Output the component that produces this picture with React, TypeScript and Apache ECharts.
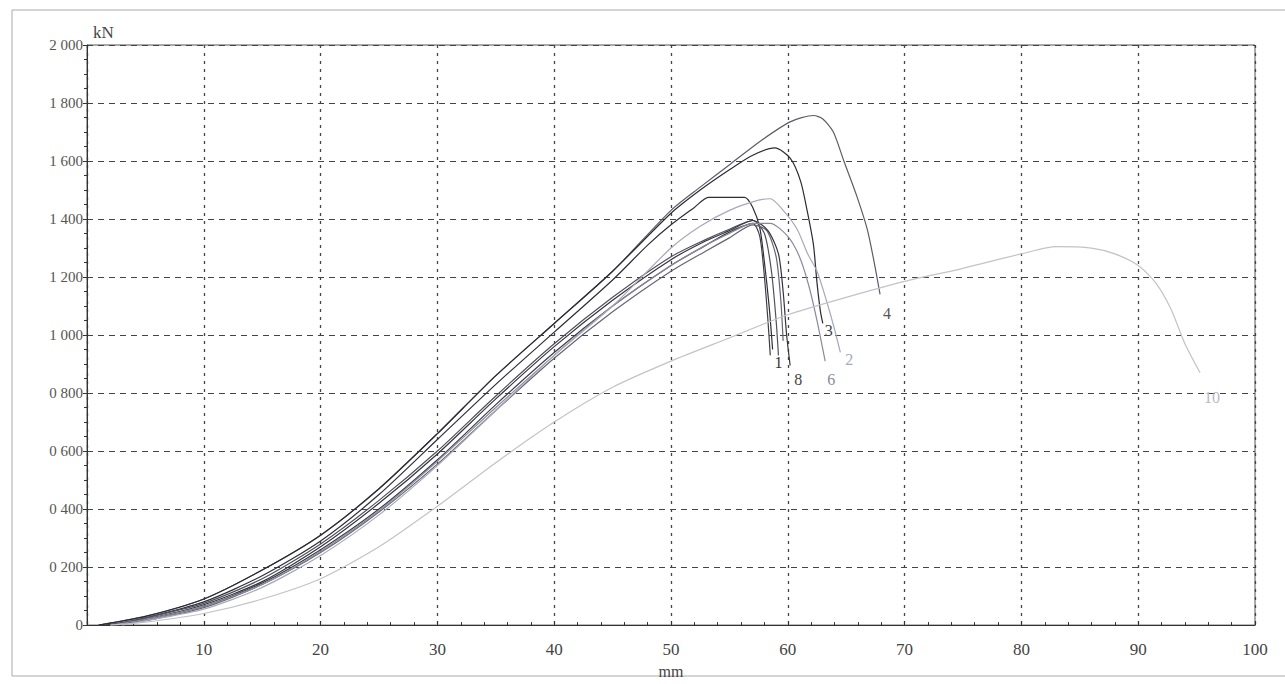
import React, { useEffect, useRef } from "react";
import * as echarts from "echarts";

// x in mm, y in kN
const curve1 = [[2,0],[5,0.025],[10,0.08],[15,0.17],[20,0.29],[25,0.45],[30,0.64],[35,0.83],[40,1.01],[45,1.19],[48,1.31],[50,1.38],[52,1.44],[53.2,1.475],[56.3,1.475],[57,1.44],[57.6,1.37],[58,1.25],[58.4,1.1],[58.7,0.95]];
const curve2 = [[3,0],[5,0.015],[10,0.055],[15,0.13],[20,0.24],[25,0.38],[30,0.55],[35,0.74],[40,0.93],[45,1.1],[50,1.3],[52.5,1.375],[55,1.43],[57.5,1.465],[58.5,1.47],[59.6,1.43],[60.8,1.365],[61.7,1.28],[62.5,1.22],[63.3,1.12],[64,1.02],[64.5,0.94]];
const curve3 = [[1,0],[5,0.03],[10,0.09],[15,0.19],[20,0.31],[25,0.47],[30,0.66],[35,0.86],[40,1.04],[45,1.22],[50,1.42],[52.5,1.5],[55,1.57],[57,1.62],[58.9,1.645],[60.2,1.61],[61.1,1.53],[61.7,1.42],[62.2,1.31],[62.5,1.18],[62.8,1.08],[63,1.04]];
const curve4 = [[1,0],[5,0.03],[10,0.09],[15,0.19],[20,0.31],[25,0.47],[30,0.66],[35,0.86],[40,1.04],[45,1.22],[50,1.43],[52.5,1.51],[55.1,1.59],[57.7,1.67],[60.2,1.735],[62.2,1.757],[63,1.745],[63.9,1.7],[64.8,1.6],[65.9,1.48],[66.8,1.365],[67.4,1.25],[67.9,1.14]];
const curve5 = [[1.5,0],[5,0.02],[10,0.065],[15,0.145],[20,0.26],[25,0.4],[30,0.57],[35,0.76],[40,0.94],[45,1.1],[50,1.24],[53,1.31],[55,1.355],[57,1.385],[57.6,1.34],[58,1.2],[58.3,1.05],[58.5,0.93]];
const curve6 = [[2,0],[5,0.02],[10,0.065],[15,0.14],[20,0.255],[25,0.395],[30,0.565],[35,0.75],[40,0.93],[45,1.1],[50,1.24],[53,1.31],[55,1.35],[57,1.385],[58.5,1.385],[60,1.34],[61,1.27],[61.8,1.17],[62.5,1.05],[63.2,0.91]];
const curve7 = [[2,0],[5,0.025],[10,0.075],[15,0.16],[20,0.28],[25,0.43],[30,0.6],[35,0.79],[40,0.97],[45,1.13],[50,1.27],[53,1.33],[55,1.365],[57,1.395],[58,1.35],[58.6,1.22],[59,1.05],[59.2,0.93]];
const curve8 = [[2,0],[5,0.02],[10,0.07],[15,0.15],[20,0.27],[25,0.42],[30,0.59],[35,0.78],[40,0.96],[45,1.12],[50,1.26],[53,1.325],[55,1.36],[57,1.395],[58.3,1.36],[59.2,1.28],[59.6,1.15],[59.9,1.0],[60.2,0.895]];
const curve9 = [[2.5,0],[5,0.015],[10,0.06],[15,0.14],[20,0.25],[25,0.39],[30,0.555],[35,0.74],[40,0.92],[45,1.08],[50,1.22],[53,1.29],[55,1.335],[57,1.38],[58.2,1.36],[59,1.27],[59.4,1.12],[59.6,0.98]];
const curve10 = [[2,0],[5,0.01],[10,0.04],[15,0.09],[20,0.16],[25,0.27],[30,0.41],[35,0.56],[40,0.7],[45,0.82],[50,0.91],[55,0.99],[60,1.07],[65,1.13],[70,1.185],[75,1.23],[80,1.28],[83,1.305],[86,1.3],[88,1.28],[90,1.24],[91.5,1.18],[92.8,1.09],[94,0.97],[95.3,0.87]];

const yTickLabels = ["0", "0 200", "0 400", "0 600", "0 800", "1 000", "1 200", "1 400", "1 600", "1 800", "2 000"];
const xTickLabels = ["", "10", "20", "30", "40", "50", "60", "70", "80", "90", "100"];

const seriesDefs = [
  { name: "4", data: curve4, color: "#5c5c6a", label: "4", labelColor: "#555", offset: [-5, 19] },
  { name: "3", data: curve3, color: "#2a2a34", label: "3", labelColor: "#444", offset: [-6, 7] },
  { name: "1", data: curve1, color: "#2e2e36", label: "1", labelColor: "#333", offset: [-6, 13] },
  { name: "5", data: curve5, color: "#3e3e4a", label: "", labelColor: "#333", offset: [0, 0] },
  { name: "7", data: curve7, color: "#50505c", label: "", labelColor: "#333", offset: [0, 0] },
  { name: "9", data: curve9, color: "#646474", label: "", labelColor: "#333", offset: [0, 0] },
  { name: "8", data: curve8, color: "#34343e", label: "8", labelColor: "#444", offset: [-4, 14] },
  { name: "6", data: curve6, color: "#8a8a9c", label: "6", labelColor: "#8a8aa0", offset: [-6, 18] },
  { name: "2", data: curve2, color: "#a8a8ba", label: "2", labelColor: "#a8a8bc", offset: [-3, 7] },
  { name: "10", data: curve10, color: "#c2c2cc", label: "10", labelColor: "#b8b8c4", offset: [-4, 25] },
];

const FONT = "'Liberation Serif', 'DejaVu Serif', serif";

export default function App() {
  const ref = useRef<HTMLDivElement>(null);
  useEffect(() => {
    if (!ref.current) return;
    const chart = echarts.init(ref.current, undefined, { renderer: "svg" });
    chart.setOption({
      animation: false,
      backgroundColor: "#ffffff",
      grid: {
        left: 87,
        right: 30,
        top: 45,
        bottom: 47,
        show: true,
        borderColor: "#555",
        borderWidth: 1,
        backgroundColor: "transparent",
      },
      graphic: [
        {
          type: "rect",
          shape: { x: 12, y: 10, width: 1290, height: 666 },
          style: { fill: "none", stroke: "#aaa", lineWidth: 1 },
          silent: true,
        },
      ],
      xAxis: {
        type: "value",
        min: 0,
        max: 100,
        interval: 10,
        name: "mm",
        nameLocation: "middle",
        nameGap: 31,
        nameTextStyle: { fontFamily: FONT, fontSize: 16, color: "#444" },
        axisLine: { show: true, lineStyle: { color: "#333", width: 1 } },
        axisTick: { show: true, inside: true, length: 4, lineStyle: { color: "#333" } },
        minorTick: { show: true, splitNumber: 5, length: 3, lineStyle: { color: "#333" } },
        axisLabel: {
          fontFamily: FONT,
          fontSize: 17,
          color: "#444",
          margin: 16,
          formatter: (v: number) => xTickLabels[Math.round(v / 10)] ?? "",
        },
        splitLine: { show: true, lineStyle: { color: "#444", type: [3, 5], width: 1.3 } },
      },
      yAxis: {
        type: "value",
        min: 0,
        max: 2,
        interval: 0.2,
        name: "kN",
        nameLocation: "end",
        nameGap: 4,
        nameTextStyle: { fontFamily: FONT, fontSize: 17, color: "#444", align: "left", padding: [0, 0, 0, 6] },
        axisLine: { show: true, lineStyle: { color: "#333", width: 1 } },
        axisTick: { show: true, inside: false, length: 4, lineStyle: { color: "#333" } },
        minorTick: { show: true, splitNumber: 4, length: 3, lineStyle: { color: "#333" } },
        axisLabel: {
          fontFamily: FONT,
          fontSize: 15,
          color: "#555",
          margin: 4,
          formatter: (v: number) => yTickLabels[Math.round(v / 0.2)] ?? "",
        },
        splitLine: { show: true, lineStyle: { color: "#444", type: [6, 5], width: 1.2 } },
      },
      series: seriesDefs.map((s) => ({
        type: "line",
        name: s.name,
        data: s.data,
        showSymbol: false,
        smooth: 0.25,
        lineStyle: { color: s.color, width: 1.2 },
        endLabel: {
          show: s.label !== "",
          formatter: s.label,
          offset: s.offset,
          color: s.labelColor,
          fontFamily: FONT,
          fontSize: 16,
        },
      })),
    });
    return () => chart.dispose();
  }, []);
  return (
    <div
      ref={ref}
      style={{ position: "absolute", left: 0, top: 0, width: 1285, height: 684, background: "#fff" }}
    />
  );
}
